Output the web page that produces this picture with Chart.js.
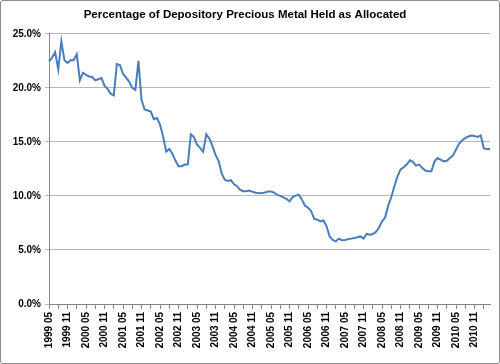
<!DOCTYPE html>
<html>
<head>
<meta charset="utf-8">
<script src="https://cdn.jsdelivr.net/npm/chart.js@4/dist/chart.umd.min.js"></script>
<style>
html,body{margin:0;padding:0;background:#fff;}
#wrap{position:relative;width:500px;height:364px;}
#frame{position:absolute;left:0;top:0;width:500px;height:364px;box-sizing:border-box;border:1px solid #8c8c8c;border-radius:3px;pointer-events:none;}
canvas{display:block;}
</style>
</head>
<body>
<div id="wrap"><canvas id="c" width="500" height="364"></canvas><div id="frame"></div></div>
<script>
const titleText = "Percentage of Depository Precious Metal Held as Allocated";

// Months from 1999 05 to 2011 04 (one point per month)
const startYear = 1999, startMonth = 5, monthCount = 144;
const months = [];
for (let k = 0; k < monthCount; k++) {
  const m = startMonth - 1 + k;
  const y = startYear + Math.floor(m / 12);
  const mm = (m % 12) + 1;
  months.push(y + " " + (mm < 10 ? "0" + mm : "" + mm));
}

// Percent allocated
const allocatedPct = [
  22.46, 22.8, 23.3, 21.7, 24.3, 22.55, 22.3, 22.55, 22.55, 23.1,
  20.7, 21.4, 21.2, 21.05, 21.0, 20.7, 20.8, 20.9, 20.2, 19.9,
  19.45, 19.3, 22.2, 22.1, 21.3, 20.95, 20.55, 20.0, 19.8, 22.5,
  18.9, 18.0, 17.9, 17.8, 17.1, 17.2, 16.6, 15.5, 14.1, 14.35,
  13.9, 13.27, 12.75, 12.75, 12.9, 12.9, 15.7, 15.45, 14.75, 14.45,
  14.1, 15.7, 15.3, 14.6, 13.8, 13.25, 12.05, 11.5, 11.38, 11.45,
  11.07, 10.9, 10.56, 10.43, 10.43, 10.5, 10.38, 10.3, 10.24, 10.26,
  10.32, 10.4, 10.4, 10.3, 10.1, 10.0, 9.87, 9.72, 9.5, 9.9,
  10.03, 10.12, 9.66, 9.1, 8.9, 8.6, 7.87, 7.8, 7.65, 7.73,
  7.19, 6.25, 5.92, 5.8, 6.05, 5.9, 5.93, 6.0, 6.05, 6.1,
  6.17, 6.25, 6.05, 6.48, 6.42, 6.48, 6.67, 7.05, 7.65, 8.0,
  9.1, 9.9, 10.9, 11.8, 12.45, 12.65, 12.9, 13.3, 13.15, 12.8,
  12.9, 12.6, 12.35, 12.28, 12.28, 13.2, 13.5, 13.35, 13.2, 13.25,
  13.5, 13.75, 14.3, 14.85, 15.15, 15.37, 15.5, 15.58, 15.55, 15.46,
  15.6, 14.4, 14.35, 14.35
];

const yMin = 0, yMax = 25, yStep = 5;
const labelEvery = 6, tickEvery = 3;

const font = "'Liberation Sans', Arial, sans-serif";

new Chart(document.getElementById('c'), {
  type: 'line',
  data: {
    labels: months,
    datasets: [{
      data: allocatedPct,
      borderColor: '#4a7ebb',
      borderWidth: 2,
      pointRadius: 0,
      tension: 0,
      fill: false
    }]
  },
  options: {
    responsive: false,
    animation: false,
    devicePixelRatio: 1,
    layout: { padding: { left: 0, right: 10, top: 0, bottom: 0 } },
    plugins: {
      legend: { display: false },
      tooltip: { enabled: false },
      title: {
        display: true,
        text: titleText,
        color: '#000',
        font: { family: font, size: 11.5, weight: 'bold', lineHeight: 1.2 },
        padding: { top: 8, bottom: 12 }
      }
    },
    scales: {
      x: {
        type: 'category',
        offset: false,
        afterFit: (s) => { s.height = 60; },
        grid: { display: true, drawOnChartArea: false, drawTicks: true, tickLength: 5, color: '#868686' },
        border: { display: true, color: '#868686', width: 1 },
        ticks: {
          autoSkip: false,
          minRotation: 90,
          maxRotation: 90,
          padding: 3,
          color: '#000',
          font: { family: font, size: 10, weight: 'bold' },
          callback: function (v, i) {
            if (i % labelEvery === 0) return this.getLabelForValue(v);
            if (i % tickEvery === 0) return '';
            return null;
          }
        }
      },
      y: {
        min: yMin,
        max: yMax,
        afterFit: (s) => { s.width = 49; },
        grid: { color: '#b8b8b8', drawTicks: true, tickLength: 4 },
        border: { display: true, color: '#868686', width: 1 },
        ticks: {
          stepSize: yStep,
          padding: 4,
          color: '#000',
          font: { family: font, size: 10, weight: 'bold' },
          callback: (v) => v.toFixed(1) + '%'
        }
      }
    }
  }
});
</script>
</body>
</html>
